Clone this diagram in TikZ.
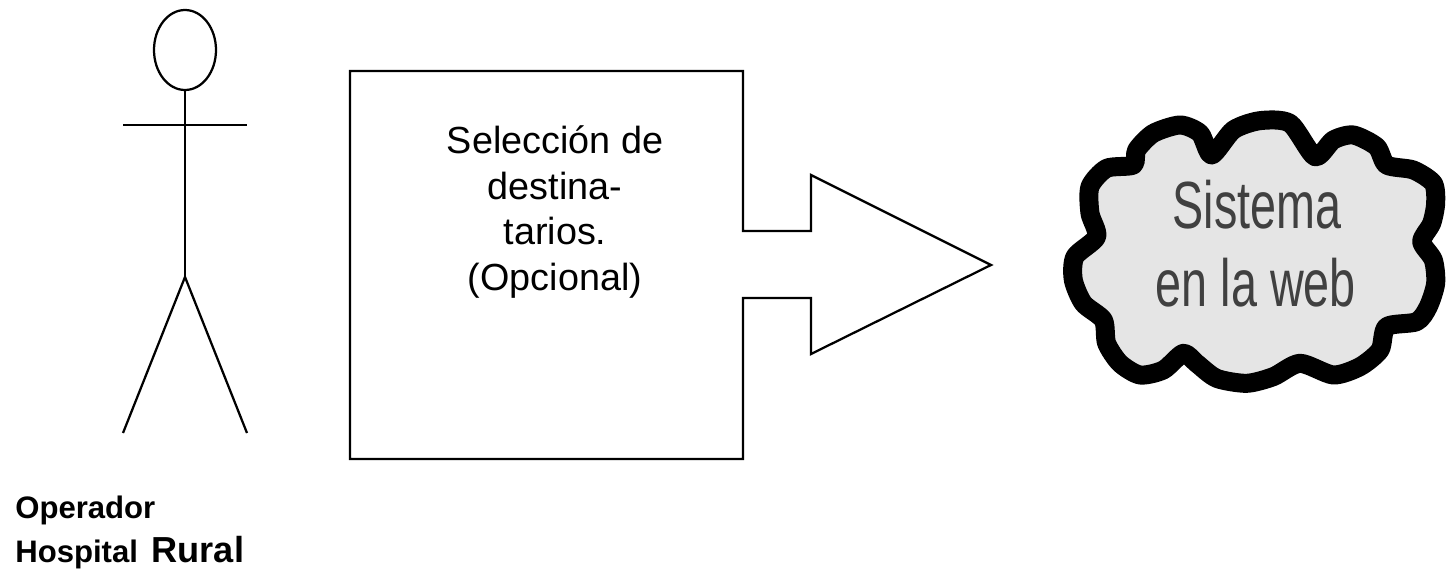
\documentclass[tikz,border=0pt]{standalone}
\usepackage{fontspec}
\setmainfont{Liberation Sans}
\tikzset{
  outline/.style={draw=black, line width=0.045cm},
  boxtext/.style={align=center, font=\fontsize{21.5}{26}\selectfont},
  labeltext/.style={anchor=base west, inner sep=0pt, font=\fontsize{17.7}{20}\selectfont\bfseries},
  cloudtext/.style={text=black!75, xscale=0.7, font=\fontsize{38}{38}\selectfont}
}
\begin{document}
\begin{tikzpicture}[x=0.02cm, y=-0.02cm]
        \useasboundingbox (0, 0) rectangle (1447, 571);

        % actor
        \draw [outline] (185, 50) ellipse [x radius=31, y radius=40];
        \draw [outline] (185, 90) -- (185, 277);
        \draw [outline] (123, 125) -- (247, 125);
        \draw [outline] (123, 433) -- (185, 277) -- (247, 433);

        \node [labeltext] (operator) at (15, 518) {Operador};
        \node [labeltext] (hospital) at (15, 562) {Hospital\hspace{0.1cm} {\fontsize{20.6}{20}\selectfont Rural}};

        % box and arrow
        \draw [outline] (743, 231) -- (811, 231) -- (811, 175) -- (991, 265) -- (811, 354) -- (811, 298) -- (743, 298)
            -- (743, 459) -- (350, 459) -- (350, 71) -- (743, 71) -- cycle;
        \node [boxtext] (selection) at (555, 212) {Selección de\\destina-\\tarios.\\(Opcional)};

        % cloud
        \begin{scope}[shift={(1040, 100)}, x=0.00667cm, y=-0.00667cm]
            \draw [line width=0.38cm, line join=round, fill=black!10] plot [smooth cycle, tension=0.45] coordinates {
                (515,165) (580,90) (660,62) (750,70) (825,170) (880,120) (940,105) (1010,140) (1040,195) (1120,210)
                (1180,250) (1187,310) (1175,370) (1145,425) (1180,480) (1187,550) (1165,620) (1130,665) (1040,680)
                (1020,750) (960,800) (880,825) (780,790) (700,830) (620,850) (530,835) (470,790) (430,760) (370,810)
                (300,825) (240,790) (200,730) (190,660) (130,610) (100,540) (105,470) (170,410) (150,340) (150,260)
                (200,205) (280,195) (290,150) (340,100) (420,75) (480,100)};
        \end{scope}
        \node [cloudtext] (system) at (1257, 205) {Sistema};
        \node [cloudtext] (web) at (1256, 283) {en la web};
    \end{tikzpicture}
\end{document}
